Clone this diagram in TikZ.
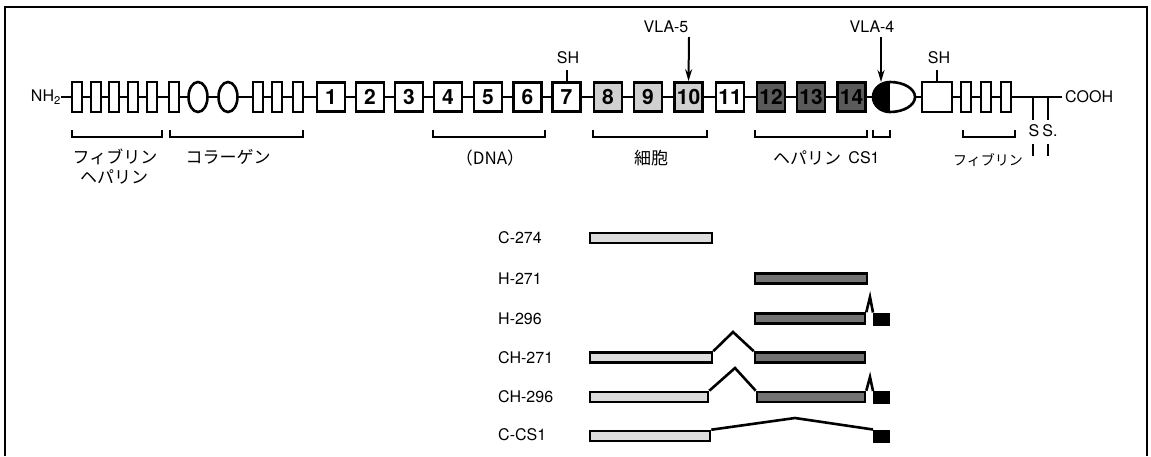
\documentclass[tikz,border=0pt]{standalone}
\usepackage{fontspec}
\setmainfont{TeX Gyre Heros}
\newfontfamily\jp{Noto Sans CJK JP}
\usetikzlibrary{arrows.meta,shapes.geometric}
\definecolor{lightstip}{HTML}{DCDCDC}
\definecolor{midstip}{HTML}{D0D0D0}
\definecolor{darkstip}{HTML}{727272}
\definecolor{darkbox}{HTML}{5A5A5A}
\begin{document}
\begin{tikzpicture}[x=1pt,y=-1pt,
  ln/.style={line width=2.6pt},
  rr/.style={draw, line width=2.6pt, fill=white, minimum width=10pt, minimum height=30pt, inner sep=0pt},
  el/.style={draw, ellipse, line width=2.6pt, fill=white, minimum width=19pt, minimum height=30pt, inner sep=0pt},
  nb/.style={draw, line width=2.6pt, fill=white, minimum width=28pt, minimum height=29pt, inner sep=0pt, font=\fontsize{21}{21}\selectfont\bfseries},
  lb/.style={nb, fill=midstip},
  db/.style={nb, fill=darkbox},
  lab/.style={font=\fontsize{16}{16}\selectfont, inner sep=0pt},
  jlab/.style={font=\jp\fontsize{17}{17}\selectfont, inner sep=0pt},
  br/.style={line width=2.3pt},
  lbar/.style={draw, line width=2.6pt, fill=lightstip, inner sep=0pt, minimum height=10pt},
  dbar/.style={draw, line width=2.6pt, fill=darkstip, inner sep=0pt, minimum height=10pt},
  blk/.style={draw, line width=1pt, fill=black, inner sep=0pt, minimum width=16pt, minimum height=12pt},
  arr/.style={line width=2pt, -{Stealth[length=12pt,width=7pt]}}
]
\useasboundingbox (0,0) rectangle (1151,456);
% frame
\draw[line width=1.4pt] (5,456) -- (5,7) -- (1147,7) -- (1147,456);

% ---- main chain ----
\node[lab, anchor=east] (nh2) at (61,97) {NH\textsubscript{2}};
\foreach \n/\x in {f1/77, f2/96, f3/114, f4/133, f5/152, f6/174, f7/258, f8/277, f9/298, g1/966, g2/986, g3/1006}
  \node[rr] (\n) at (\x,97) {};
\node[el] (e1) at (198,97) {};
\node[el] (e2) at (228,97) {};
\foreach \k/\x in {1/331, 2/370, 3/409, 4/448, 5/488, 6/527.5, 7/566.5, 11/730}
  \node[nb] (n\k) at (\x,97) {\k};
\foreach \k/\x in {8/608, 9/648, 10/688.5}
  \node[lb] (n\k) at (\x,97) {\k};
\foreach \k/\x in {12/771, 13/811, 14/851.5}
  \node[db] (n\k) at (\x,97) {\k};
% CS1 half-filled domain
\node[minimum width=42pt, minimum height=30pt, inner sep=0pt] (cs) at (894,97) {};
\fill[black] (890,82) arc[start angle=90, end angle=270, x radius=17, y radius=-15] -- cycle;
\draw[line width=2.6pt, fill=white] (890,82) arc[start angle=90, end angle=-90, x radius=25, y radius=-15];
\draw[line width=2.6pt] (890,82) arc[start angle=90, end angle=270, x radius=17, y radius=-15];
\node[rr, minimum width=30pt] (shb) at (937,97) {};
\coordinate (cend) at (1062,97);
\node[lab, anchor=west] (cooh) at (1065,97) {COOH};

\foreach \a/\b in {nh2/f1, f1/f2, f2/f3, f3/f4, f4/f5, f5/f6, f6/e1, e1/e2, e2/f7, f7/f8, f8/f9, f9/n1,
  n1/n2, n2/n3, n3/n4, n4/n5, n5/n6, n6/n7, n7/n8, n8/n9, n9/n10, n10/n11, n11/n12, n12/n13, n13/n14,
  n14/cs, cs/shb, shb/g1, g1/g2, g2/g3}
  \draw[ln] (\a.east) -- (\b.west);
\draw[ln] (g3.east) -- (cend);

% S-S
\coordinate (s1) at (1033,97);
\coordinate (s2) at (1048,97);
\coordinate (s1b) at (1033,120);
\coordinate (s2b) at (1048,120);
\draw[line width=2.3pt] (s1) -- (s1b);
\draw[line width=2.3pt] (s2) -- (s2b);
\node[lab] (sa) at (1034,131) {S};
\node[lab] (sb) at (1050,131) {S.};
\draw[line width=2.3pt] (1033,144) -- (1033,156);
\draw[line width=2.3pt] (1048,144) -- (1048,156);

% SH
\coordinate (sh7) at (566.5,70);
\draw[line width=2pt] (n7.north) -- (sh7);
\node[lab] (sh7t) at (568,58) {SH};
\coordinate (shbt) at (937,70);
\draw[line width=2pt] (shb.north) -- (shbt);
\node[lab] (shbtt) at (939,58) {SH};

% VLA arrows
\node[lab] (vla5) at (666,27) {VLA-5};
\coordinate (v5) at (689,37);
\draw[arr] (v5) -- (n10.north);
\node[lab] (vla4) at (872,27) {VLA-4};
\coordinate (v4) at (881,37);
\coordinate (v4e) at (881,82);
\draw[arr] (v4) -- (v4e);

% brackets
\foreach \a/\b in {72/162, 170/303, 433/545, 593/707, 755/867, 873/890, 963/1015}
  \draw[br] (\a,130) -- (\a,137) -- (\b,137) -- (\b,130);
\node[jlab] (t1) at (115,157) {フィブリン};
\node[jlab] (t1b) at (114,177) {ヘパリン};
\node[jlab] (t2) at (228,157) {コラーゲン};
\node[jlab] (t3) at (490,158) {（DNA）};
\node[jlab] (t4) at (651,158) {細胞};
\node[jlab] (t5) at (807,158) {ヘパリン};
\node[lab] (t6) at (864,158) {CS1};
\node[jlab, font=\jp\fontsize{14}{14}\selectfont] (t7) at (988,160) {フィブリン};

% ---- fragments ----
\node[lab, anchor=west] (l1) at (498,238) {C-274};
\node[lab, anchor=west] (l2) at (498,279) {H-271};
\node[lab, anchor=west] (l3) at (498,319) {H-296};
\node[lab, anchor=west] (l4) at (498,358) {CH-271};
\node[lab, anchor=west] (l5) at (498,397) {CH-296};
\node[lab, anchor=west] (l6) at (498,435) {C-CS1};

\node[lbar, minimum width=122pt] (c1) at (651,238) {};
\node[dbar, minimum width=112pt] (h1) at (811,278.5) {};

\node[dbar, minimum width=110pt] (h2) at (810,318.5) {};
\node[blk] (k2) at (881.5,319) {};
\coordinate (p2) at (870,297);
\draw[ln] (h2.north east) -- (p2) -- (k2.north west);

\node[lbar, minimum width=122pt] (c4) at (651,357.5) {};
\node[dbar, minimum width=110pt] (h4) at (810,357.5) {};
\coordinate (p4) at (733,332);
\draw[ln] (c4.north east) -- (p4) -- (h4.north west);

\node[lbar, minimum width=118pt] (c5) at (649,397) {};
\node[dbar, minimum width=108pt] (h5) at (811,397) {};
\node[blk] (k5) at (881.5,397.5) {};
\coordinate (p5) at (735,368);
\coordinate (q5) at (870,377);
\draw[ln] (c5.north east) -- (p5) -- (h5.north west);
\draw[ln] (h5.north east) -- (q5) -- (k5.north west);

\node[lbar, minimum width=120pt] (c6) at (650,436) {};
\node[blk] (k6) at (881.5,436) {};
\coordinate (p6) at (795,418);
\draw[ln] (c6.north east) -- (p6) -- (k6.north west);
\end{tikzpicture}
\end{document}
